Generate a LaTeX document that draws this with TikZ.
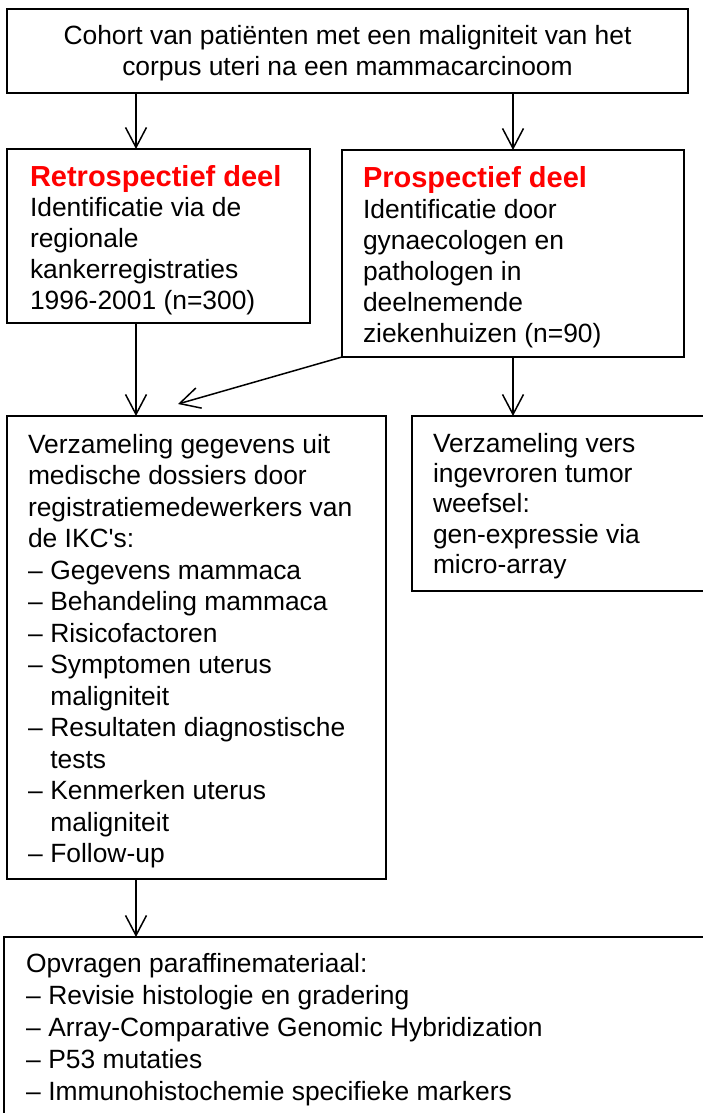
\documentclass[tikz,border=0pt]{standalone}
\usepackage{fontspec}
\setmainfont{Liberation Sans}[Ligatures=TeXOff]
\usetikzlibrary{arrows.meta,calc}
\newcommand\bodysize{\fontsize{26.4pt}{31.2pt}\selectfont}
\newcommand\headsize{\fontsize{29pt}{31.2pt}\selectfont}
\newcommand\itm[1]{\makebox[22.3pt][l]{–}#1}
\newcommand\cnt[1]{\hspace*{22.3pt}#1}
\newcommand\headline[1]{\leavevmode{\headsize\bfseries\color{headred}#1}}
\newcommand\lskip[1]{\setlength\baselineskip{#1pt}}
\definecolor{headred}{RGB}{255,0,0}
\begin{document}
\begin{tikzpicture}[x=1pt,y=1pt,
  box/.style={draw=black, line width=2.2pt, inner sep=0pt, outer sep=0pt, anchor=north west},
  txt/.style={inner sep=0pt, outer sep=0pt, anchor=base west, font=\bodysize},
  arr/.style={draw=black, line width=1.5pt, -{Straight Barb[length=20pt,width=21pt]}}]
\useasboundingbox (0,0) rectangle (703,-1113);
\fill[white] (0,0) rectangle (703,-1113);
\clip (0,0) rectangle (703,-1113);

% boxes
\node[box, minimum width=681pt, minimum height=84pt] (top) at (7,-9) {};
\node[box, minimum width=303pt, minimum height=174pt] (retro) at (7,-149) {};
\node[box, minimum width=342pt, minimum height=207pt] (prosp) at (342,-150) {};
\node[box, minimum width=379pt, minimum height=463pt] (data) at (7,-416) {};
\node[box, minimum width=320pt, minimum height=175pt] (fresh) at (412,-416) {};
\node[box, minimum width=720pt, minimum height=200pt] (bottom) at (4,-937) {};

% texts
\node[txt, anchor=base] (toptext) at (347.5,-45) {\parbox[t]{670pt}{\centering\lskip{30.5}Cohort van patiënten met een maligniteit van het\\corpus uteri na een mammacarcinoom}};
\node[txt] (retrotext) at (30,-186) {\parbox[t]{280pt}{\raggedright\lskip{30.8}\headline{Retrospectief deel}\\Identificatie via de\\regionale\\kankerregistraties\\1996-2001 (n=300)}};
\node[txt] (prosptext) at (363,-187) {\parbox[t]{315pt}{\raggedright\lskip{31}\headline{Prospectief deel}\\Identificatie door\\gynaecologen en\\pathologen in\\deelnemende\\ziekenhuizen (n=90)}};
\node[txt] (datatext) at (28,-453) {\parbox[t]{355pt}{\raggedright\lskip{31.5}Verzameling gegevens uit\\medische dossiers door\\registratiemedewerkers van\\de IKC's:\\\itm{Gegevens mammaca}\\\itm{Behandeling mammaca}\\\itm{Risicofactoren}\\\itm{Symptomen uterus}\\\cnt{maligniteit}\\\itm{Resultaten diagnostische}\\\cnt{tests}\\\itm{Kenmerken uterus}\\\cnt{maligniteit}\\\itm{Follow-up}}};
\node[txt] (freshtext) at (433,-452) {\parbox[t]{265pt}{\raggedright\lskip{30.4}Verzameling vers\\ingevroren tumor\\weefsel:\\gen-expressie via\\micro-array}};
\node[txt] (bottomtext) at (26,-972) {\parbox[t]{670pt}{\raggedright\lskip{32}Opvragen paraffinemateriaal:\\\itm{Revisie histologie en gradering}\\\itm{Array-Comparative Genomic Hybridization}\\\itm{P53 mutaties}\\\itm{Immunohistochemie specifieke markers}}};

% connectors
\coordinate (lcol) at (136,0);
\coordinate (dtip) at (178,-404);
\draw[arr] (top.south -| lcol) -- (retro.north -| lcol);
\draw[arr] (top.south -| prosp.north) -- (prosp.north);
\draw[arr] (retro.south -| lcol) -- (data.north -| lcol);
\draw[arr] (prosp.south west) -- (dtip);
\draw[arr] (prosp.south) -- (prosp.south |- fresh.north);
\draw[arr] (data.south -| lcol) -- (bottom.north -| lcol);
\end{tikzpicture}
\end{document}
